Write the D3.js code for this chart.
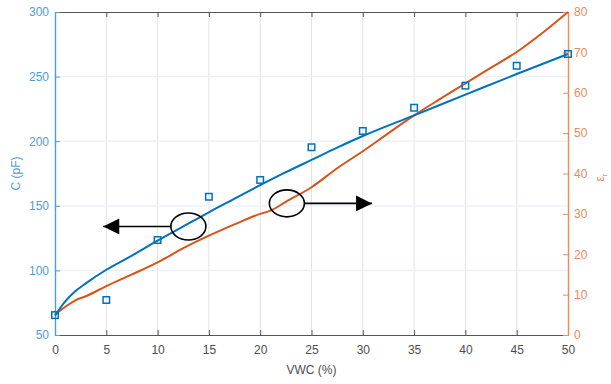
<!DOCTYPE html>
<html>
<head>
<meta charset="utf-8">
<script src="https://cdn.jsdelivr.net/npm/d3@7"></script>
<style>
  html, body { margin: 0; padding: 0; background: #fff; }
  svg { display: block; font-family: "Liberation Sans", Arial, Helvetica, sans-serif; }
</style>
</head>
<body>
<svg id="chart" width="611" height="384"></svg>
<script>
// Volumetric water content (%) ticks and measured capacitance samples
const vwcTicks = [0, 5, 10, 15, 20, 25, 30, 35, 40, 45, 50];
const capTicks = [50, 100, 150, 200, 250, 300];
const epsTicks = [0, 10, 20, 30, 40, 50, 60, 70, 80];

const measuredVWC = [0, 5, 10, 15, 20, 25, 30, 35, 40, 45, 50];
const measuredC   = [65.4, 77.1, 123.5, 157, 170, 195.3, 207.9, 225.9, 243, 258.4, 267.5];

// Fitted capacitance curve C(VWC)
const fitVWC = [0, 1, 2, 3, 5, 7.5, 10, 12.5, 15, 17.5, 20, 22.5, 25, 27.5, 30, 35, 40, 45, 50];
const fitC   = [65, 76, 84, 90, 100.5, 111.5, 123, 134, 145, 155.5, 166, 176, 185.5, 195, 204, 220, 236, 252, 267.5];

// Relative permittivity curve εr(VWC)
const epsVWC = [0, 1, 2, 3, 5, 7.5, 10, 12.5, 15, 17.5, 20, 21, 22.5, 25, 27.5, 30, 32.5, 35, 37.5, 40, 42.5, 45, 47.5, 50];
const epsR   = [5, 7, 8.6, 9.6, 12.1, 15, 18, 21.5, 24.6, 27.4, 30, 30.8, 33, 36.6, 41.3, 45.5, 50, 54.4, 58.4, 62.3, 66.2, 70.1, 74.8, 80];

// Annotation markers: ellipse centre in data units and arrow tip VWC
const leftMarker  = { vwc: 13.0, value: 134, tip: 4.7 };   // on the C curve, arrow to left axis
const rightMarker = { vwc: 22.6, value: 32.6, tip: 30.9 }; // on the εr curve, arrow to right axis

const W = 611, H = 384;
const margin = { top: 12, right: 43, bottom: 49, left: 55 };
const iw = W - margin.left - margin.right;
const ih = H - margin.top - margin.bottom;

const blueAxis = "#4f9cd8";
const blueLine = "#0072bd";
const orangeAxis = "#ec8a5e";
const orangeLine = "#d95319";
const grayAxis = "#555555";

const svg = d3.select("#chart");
const g = svg.append("g").attr("transform", `translate(${margin.left},${margin.top})`);

const x = d3.scaleLinear().domain([0, 50]).range([0, iw]);
const yL = d3.scaleLinear().domain([50, 300]).range([ih, 0]);
const yR = d3.scaleLinear().domain([0, 80]).range([ih, 0]);

// Grid: vertical grey at x ticks, horizontal light blue at left ticks
g.append("g").selectAll("line").data(vwcTicks.slice(1, -1)).join("line")
  .attr("x1", d => x(d)).attr("x2", d => x(d))
  .attr("y1", 0).attr("y2", ih)
  .attr("stroke", "#e3e3e3").attr("stroke-width", 1);
g.append("g").selectAll("line").data(capTicks.slice(1, -1)).join("line")
  .attr("x1", 0).attr("x2", iw)
  .attr("y1", d => yL(d)).attr("y2", d => yL(d))
  .attr("stroke", "#e8f0f8").attr("stroke-width", 1.2);

// Bottom axis
const xAxis = g.append("g").attr("transform", `translate(0,${ih})`)
  .call(d3.axisBottom(x).tickValues(vwcTicks).tickSizeInner(-5).tickSizeOuter(0).tickPadding(10));
xAxis.select(".domain").attr("stroke", grayAxis).attr("stroke-width", 1.2);
xAxis.selectAll(".tick line").attr("stroke", grayAxis);
xAxis.selectAll(".tick text").attr("fill", "#4d4d4d").attr("font-size", 12);

// Top border with inward ticks
const xTop = g.append("g")
  .call(d3.axisTop(x).tickValues(vwcTicks).tickSizeInner(-5).tickSizeOuter(0).tickFormat(""));
xTop.select(".domain").attr("stroke", grayAxis).attr("stroke-width", 1.2);
xTop.selectAll(".tick line").attr("stroke", grayAxis);

// Left axis (capacitance)
const yAxisL = g.append("g")
  .call(d3.axisLeft(yL).tickValues(capTicks).tickSizeInner(-5).tickSizeOuter(0).tickPadding(6));
yAxisL.select(".domain").attr("stroke", blueAxis).attr("stroke-width", 1.4);
yAxisL.selectAll(".tick line").attr("stroke", blueAxis);
yAxisL.selectAll(".tick text").attr("fill", blueAxis).attr("font-size", 12);

// Right axis (relative permittivity)
const yAxisR = g.append("g").attr("transform", `translate(${iw},0)`)
  .call(d3.axisRight(yR).tickValues(epsTicks).tickSizeInner(-5).tickSizeOuter(0).tickPadding(6));
yAxisR.select(".domain").attr("stroke", orangeAxis).attr("stroke-width", 1.4);
yAxisR.selectAll(".tick line").attr("stroke", orangeAxis);
yAxisR.selectAll(".tick text").attr("fill", orangeAxis).attr("font-size", 12);

// Axis titles
svg.append("text")
  .attr("x", margin.left + iw / 2).attr("y", 374)
  .attr("text-anchor", "middle").attr("font-size", 12).attr("fill", "#4d4d4d")
  .text("VWC (%)");
svg.append("text")
  .attr("transform", `translate(20,${margin.top + ih / 2}) rotate(-90)`)
  .attr("text-anchor", "middle").attr("font-size", 12).attr("fill", blueAxis)
  .text("C (pF)");
const epsLabel = svg.append("text")
  .attr("transform", `translate(604,${margin.top + ih / 2 + 4}) rotate(-90)`)
  .attr("text-anchor", "middle").attr("font-size", 12).attr("fill", orangeAxis);
epsLabel.append("tspan").text("ε");
epsLabel.append("tspan").attr("font-size", 8).attr("dy", 3).text("r");

// Curves
const fitData = fitVWC.map((v, i) => [v, fitC[i]]);
const epsData = epsVWC.map((v, i) => [v, epsR[i]]);

g.append("path").datum(epsData)
  .attr("fill", "none").attr("stroke", orangeLine).attr("stroke-width", 2)
  .attr("d", d3.line().x(d => x(d[0])).y(d => yR(d[1])).curve(d3.curveMonotoneX));

g.append("path").datum(fitData)
  .attr("fill", "none").attr("stroke", blueLine).attr("stroke-width", 2)
  .attr("d", d3.line().x(d => x(d[0])).y(d => yL(d[1])).curve(d3.curveMonotoneX));

// Measured points
const sq = 6.5;
g.append("g").selectAll("rect").data(measuredVWC.map((v, i) => [v, measuredC[i]])).join("rect")
  .attr("x", d => x(d[0]) - sq / 2).attr("y", d => yL(d[1]) - sq / 2)
  .attr("width", sq).attr("height", sq)
  .attr("fill", "none").attr("stroke", blueLine).attr("stroke-width", 1.5);

// Axis-pointer annotations
const defs = svg.append("defs");
defs.append("marker").attr("id", "head")
  .attr("viewBox", "0 0 10 10").attr("refX", 10).attr("refY", 5)
  .attr("markerUnits", "userSpaceOnUse")
  .attr("markerWidth", 22).attr("markerHeight", 16).attr("orient", "auto")
  .append("path").attr("d", "M0,0 L10,5 L0,10 Z").attr("fill", "#000");

const rx = 17.5, ry = 13.5;
function marker(cx, cy, tipX) {
  g.append("ellipse").attr("cx", cx).attr("cy", cy).attr("rx", rx).attr("ry", ry)
    .attr("fill", "none").attr("stroke", "#000").attr("stroke-width", 1.6);
  const startX = tipX < cx ? cx - rx : cx + rx;
  g.append("line").attr("x1", startX).attr("y1", cy).attr("x2", tipX).attr("y2", cy)
    .attr("stroke", "#000").attr("stroke-width", 1.6).attr("marker-end", "url(#head)");
}
marker(x(leftMarker.vwc), yL(leftMarker.value), x(leftMarker.tip));
marker(x(rightMarker.vwc), yR(rightMarker.value), x(rightMarker.tip));
</script>
</body>
</html>
